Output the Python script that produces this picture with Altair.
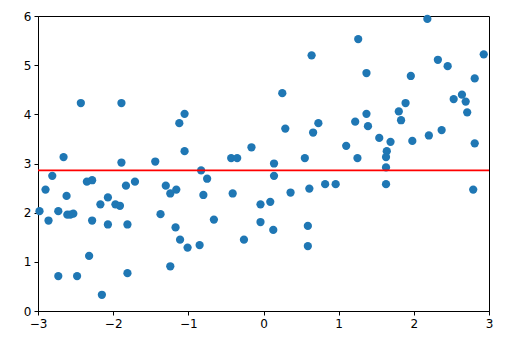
import altair as alt
import pandas as pd

x_vals = [
    -2.98, -2.90, -2.86, -2.81, -2.73, -2.73, -2.66, -2.62, -2.61, -2.57,
    -2.53, -2.48, -2.43, -2.35, -2.28, -2.28, -2.32, -2.17, -2.15, -2.07,
    -2.07, -1.97, -1.91, -1.89, -1.89, -1.83, -1.81, -1.81, -1.71, -1.44,
    -1.37, -1.30, -1.24, -1.24, -1.16, -1.17, -1.11, -1.12,
    -1.05, -1.05, -1.01, -0.85, -0.83, -0.75, -0.80, -0.66, -0.43, -0.35,
    -0.41, -0.26, -0.16, -0.04, -0.04, 0.09, 0.13, 0.14, 0.14, 0.25,
    0.29, 0.36, 0.55, 0.61, 0.59, 0.59, 0.64, 0.66, 0.73, 0.82,
    0.96, 1.10,
    1.26, 1.22, 1.25, 1.37, 1.37, 1.39, 1.54, 1.69, 1.64, 1.63,
    1.63, 1.63, 1.80, 1.89, 1.83, 1.96, 1.98, 2.18, 2.20, 2.32,
    2.37, 2.45, 2.53, 2.64, 2.69, 2.71, 2.81, 2.81, 2.79, 2.93,
]
y_vals = [
    2.03, 2.47, 1.84, 2.75, 2.03, 0.71, 3.13, 2.34, 1.96, 1.96,
    1.98, 0.71, 4.23, 2.63, 2.66, 1.84, 1.12, 2.17, 0.33, 2.31,
    1.76, 2.17, 2.14, 4.23, 3.02, 2.55, 1.76, 0.77, 2.63, 3.04,
    1.97, 2.55, 2.39, 0.91, 2.47, 1.70, 1.45, 3.82,
    4.01, 3.25, 1.29, 1.34, 2.86, 2.69, 2.36, 1.86, 3.11, 3.11,
    2.39, 1.45, 3.33, 2.17, 1.81, 2.22, 1.65, 3.00, 2.75, 4.43,
    3.71, 2.41, 3.11, 2.49, 1.73, 1.32, 5.20, 3.63, 3.82, 2.58,
    2.58, 3.36,
    5.53, 3.85, 3.11, 4.84, 4.01, 3.76, 3.52, 3.44, 3.25, 3.13,
    2.92, 2.58, 4.06, 4.23, 3.88, 4.78, 3.46, 5.94, 3.57, 5.11,
    3.68, 4.98, 4.31, 4.40, 4.26, 4.04, 4.73, 3.41, 2.47, 5.22,
]
mean_line = [2.86]
x_ticks = [-3, -2, -1, 0, 1, 2, 3]
y_ticks = [0, 1, 2, 3, 4, 5, 6]

df = pd.DataFrame({"x": x_vals, "y": y_vals})
line_df = pd.DataFrame({"y": mean_line})

axis_common = dict(
    domainColor="black", domainWidth=1, tickColor="black", tickWidth=1,
    tickSize=4, labelFont="DejaVu Sans", labelFontSize=12, labelColor="black",
    grid=False, title=None, labelPadding=3, labelFlush=False,
    labelExpr="replace(datum.label, '-', '\u2212')",
)

xs = alt.Scale(domain=[-3, 3], nice=False, zero=False)
ys = alt.Scale(domain=[0, 6], nice=False, zero=False)

points = alt.Chart(df).mark_point(
    filled=True, size=68, color="#1f77b4", opacity=1
).encode(
    x=alt.X("x:Q", scale=xs, axis=alt.Axis(values=x_ticks, **axis_common)),
    y=alt.Y("y:Q", scale=ys, axis=alt.Axis(values=y_ticks, **axis_common)),
)

rule = alt.Chart(line_df).mark_rule(color="red", strokeWidth=1.6).encode(
    y=alt.Y("y:Q", scale=ys)
)

chart = (points + rule).properties(
    width=451, height=295,
    autosize=alt.AutoSizeParams(type="none"),
    padding={"left": 38, "top": 16, "right": 32, "bottom": 44},
).configure_view(stroke="black", strokeWidth=1)

chart.save("out.html", embed_options={"renderer": "svg", "actions": False})
